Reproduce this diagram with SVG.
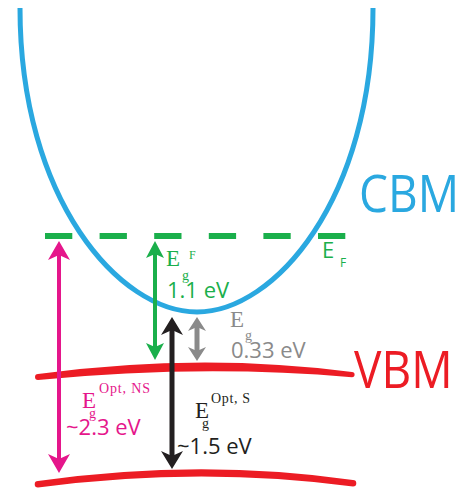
<svg xmlns="http://www.w3.org/2000/svg" width="463" height="489" viewBox="0 0 463 489">
  <style>
    .serif { font-family: "Liberation Serif", "Times New Roman", serif; }
    .sans { font-family: "Open Sans", "Liberation Sans", Arial, sans-serif; }
    .big { font-size: 46px; }
    .val { font-size: 22px; }
    .E { font-size: 23px; }
    .sm { font-size: 14px; }
    .green { fill: #1aaf4b; }
    .magenta { fill: #e5168b; }
    .black { fill: #231f20; }
    .gray { fill: #8a8a8a; }
    .shaft { fill: none; stroke-linecap: butt; }
  </style>
  <defs>
    <marker id="ah-m" markerUnits="userSpaceOnUse" viewBox="-20 -12 21 24" markerWidth="21" markerHeight="24" refX="-10" refY="0" orient="auto-start-reverse">
      <path d="M0,0 L-19,-11 L-14,0 L-19,11 Z" fill="#e5168b"/>
    </marker>
    <marker id="ah-g" markerUnits="userSpaceOnUse" viewBox="-20 -12 21 24" markerWidth="21" markerHeight="24" refX="-10" refY="0" orient="auto-start-reverse">
      <path d="M0,0 L-17,-9 L-13,0 L-17,9 Z" fill="#1aaf4b"/>
    </marker>
    <marker id="ah-k" markerUnits="userSpaceOnUse" viewBox="-20 -12 21 24" markerWidth="21" markerHeight="24" refX="-10" refY="0" orient="auto-start-reverse">
      <path d="M0,0 L-18,-11 L-13,0 L-18,11 Z" fill="#231f20"/>
    </marker>
    <marker id="ah-y" markerUnits="userSpaceOnUse" viewBox="-20 -12 21 24" markerWidth="21" markerHeight="24" refX="-8" refY="0" orient="auto-start-reverse">
      <path d="M0,0 L-14,-9 L-10,0 L-14,9 Z" fill="#8a8a8a"/>
    </marker>
  </defs>

  <g id="cbm-curve">
    <path d="M20,8 C20,200 120,312 197,312 C274,312 373,200 373,8" fill="none" stroke="#2aa8e0" stroke-width="5"/>
    <text class="sans big" transform="translate(359,212) scale(1,1.13)" fill="#2aa8e0">CBM</text>
  </g>

  <g id="vbm-band">
    <path d="M38,374 Q200,352 352,372 A2.6,2.6 0 0 1 352,377.2 Q200,364 38,380 A3,3 0 0 1 38,374 Z" fill="#ec1c24"/>
    <text class="sans big" transform="translate(354,388) scale(1,1.13)" fill="#ec1c24">VBM</text>
  </g>

  <g id="lower-band">
    <path d="M38,481 Q200,458 353,480 A3.3,3.3 0 0 1 353,486.6 Q200,466 38,487.6 A3.3,3.3 0 0 1 38,481 Z" fill="#ec1c24"/>
  </g>

  <g id="fermi-level">
    <line x1="45" y1="236" x2="346" y2="236" stroke="#1aaf4b" stroke-width="6" stroke-dasharray="27.3 27.3"/>
    <text class="sans green" x="322" y="258" font-size="22">E<tspan x="340" y="267" font-size="12">F</tspan></text>
  </g>

  <g id="connectors">
    <line class="shaft" x1="59" y1="251" x2="59" y2="463" stroke="#e5168b" stroke-width="4" marker-start="url(#ah-m)" marker-end="url(#ah-m)"/>
    <line class="shaft" x1="155" y1="251" x2="155" y2="350" stroke="#1aaf4b" stroke-width="4" marker-start="url(#ah-g)" marker-end="url(#ah-g)"/>
    <line class="shaft" x1="172" y1="327" x2="172" y2="459" stroke="#231f20" stroke-width="5" marker-start="url(#ah-k)" marker-end="url(#ah-k)"/>
    <line class="shaft" x1="197" y1="325" x2="197" y2="353" stroke="#8a8a8a" stroke-width="5" marker-start="url(#ah-y)" marker-end="url(#ah-y)"/>
  </g>

  <g id="label-fermi-gap">
    <text class="serif E green" x="166" y="266">E<tspan class="sm" x="182" y="280">g</tspan><tspan x="189" y="259" font-size="12">F</tspan></text>
    <text class="sans val green" x="167" y="298">1.1 eV</text>
  </g>

  <g id="label-gap">
    <text class="serif E gray" x="230" y="327" font-size="24">E<tspan class="sm" x="245" y="340">g</tspan></text>
    <text class="sans val gray" x="231" y="358">0.33 eV</text>
  </g>

  <g id="label-opt-ns">
    <text class="serif E magenta" x="82" y="408">E<tspan class="sm" x="89" y="418">g</tspan><tspan class="sm" x="99" y="393" textLength="51">Opt, NS</tspan></text>
    <text class="sans val magenta" x="66" y="435">~2.3 eV</text>
  </g>

  <g id="label-opt-s">
    <text class="serif E black" x="195" y="418">E<tspan class="sm" x="202" y="428">g</tspan><tspan class="sm" x="211" y="403" textLength="39">Opt, S</tspan></text>
    <text class="sans val black" x="177" y="454">~1.5 eV</text>
  </g>
</svg>
